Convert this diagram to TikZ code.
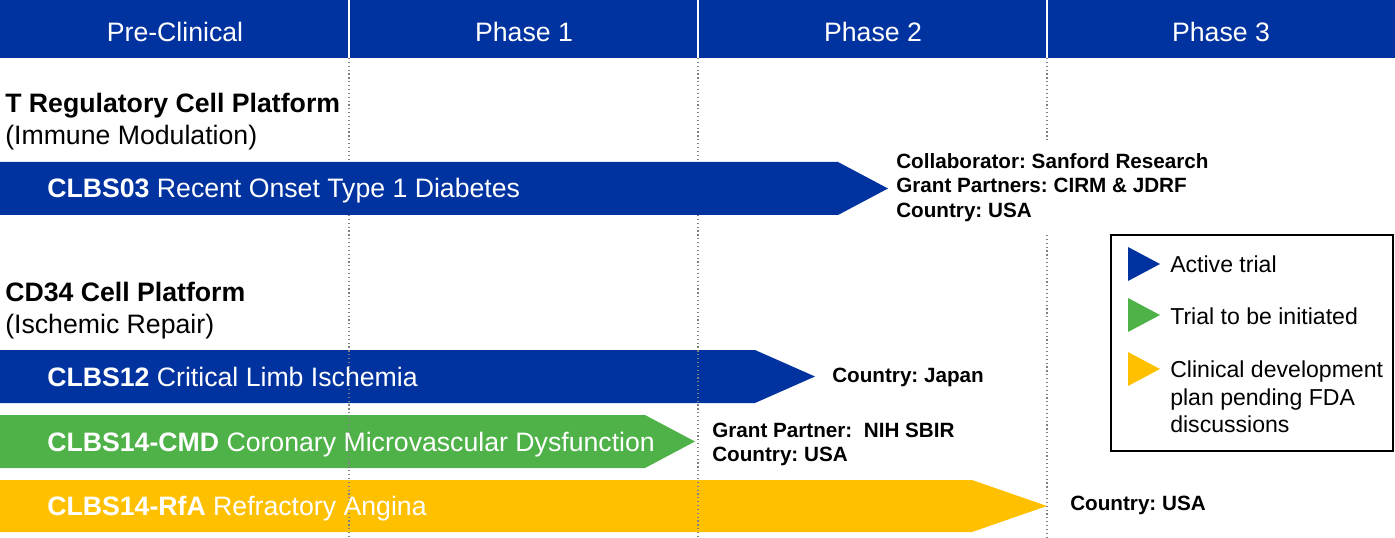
\documentclass[tikz,border=0pt]{standalone}
\usepackage{fontspec}
\setmainfont{Liberation Sans}
\frenchspacing

\definecolor{trialblue}{RGB}{0,51,160}
\definecolor{trialgreen}{RGB}{78,178,72}
\definecolor{trialyellow}{RGB}{255,192,0}

\tikzset{
  phasehead/.style={anchor=base, inner sep=0pt, text=white, font=\fontsize{20}{24}\selectfont},
  platform/.style={anchor=base west, inner sep=0pt, font=\fontsize{20}{24}\selectfont},
  triallabel/.style={anchor=base west, inner sep=0pt, text=white, font=\fontsize{20}{24}\selectfont},
  sitenote/.style={anchor=west, inner sep=0pt, align=left, font=\bfseries\fontsize{15.5}{18.4}\selectfont},
  legendtext/.style={anchor=west, inner sep=0pt, align=left, font=\fontsize{17.3}{20.6}\selectfont},
  phaseline/.style={gray, dotted, line width=0.9pt},
}

\begin{document}
\begin{tikzpicture}[x=0.75pt,y=0.75pt,yscale=-1,xscale=1]
\useasboundingbox (0,0) rectangle (1395,538);

%Header bar
\fill[trialblue] (0,0) rectangle (1395,58);
\draw[white, line width=1.5pt] (349,0) -- (349,58) (698,0) -- (698,58) (1047,0) -- (1047,58);

%Arrow: CLBS03
\fill[trialblue] (0,162) -- (838,162) -- (888,188.5) -- (838,215) -- (0,215) -- cycle;
%Arrow: CLBS12
\fill[trialblue] (0,350) -- (755,350) -- (815,376.5) -- (755,403) -- (0,403) -- cycle;
%Arrow: CLBS14-CMD
\fill[trialgreen] (0,415) -- (645,415) -- (695,441.5) -- (645,468) -- (0,468) -- cycle;
%Arrow: CLBS14-RfA
\fill[trialyellow] (0,480) -- (972,480) -- (1047,506) -- (972,532) -- (0,532) -- cycle;

%Phase separators
\draw[phaseline] (349,58) -- (349,162) (349,215) -- (349,538);
\draw[phaseline] (698,58) -- (698,162) (698,215) -- (698,538);
\draw[phaseline] (1047,58) -- (1047,140) (1047,235) -- (1047,538);

%Legend box
\draw[line width=1.5pt] (1111,235) rectangle (1393,451);
\fill[trialblue] (1128,247) -- (1160,264) -- (1128,281) -- cycle;
\fill[trialgreen] (1128,298) -- (1160,315) -- (1128,332) -- cycle;
\fill[trialyellow] (1128,352) -- (1160,369) -- (1128,386) -- cycle;

% Text Node
\node[phasehead] (preclin) at (175,42) {Pre-Clinical};
% Text Node
\node[phasehead] (phaseone) at (524,42) {Phase 1};
% Text Node
\node[phasehead] (phasetwo) at (873,42) {Phase 2};
% Text Node
\node[phasehead] (phasethree) at (1221,42) {Phase 3};
% Text Node
\node[platform] (treg) at (5,113) {\bfseries T Regulatory Cell Platform};
% Text Node
\node[platform] (tregsub) at (5,145) {(Immune Modulation)};
% Text Node
\node[platform] (cdplat) at (5,301) {\bfseries CD34 Cell Platform};
% Text Node
\node[platform] (cdsub) at (5,333) {(Ischemic Repair)};
% Text Node
\node[triallabel] (clbs03) at (47,197.5) {\bfseries CLBS03 \mdseries Recent Onset Type 1 Diabetes};
% Text Node
\node[triallabel] (clbs12) at (47,386) {\bfseries CLBS12 \mdseries Critical Limb Ischemia};
% Text Node
\node[triallabel] (clbscmd) at (47,451) {\bfseries CLBS14-CMD \mdseries Coronary Microvascular Dysfunction};
% Text Node
\node[triallabel] (clbsrfa) at (47,515.5) {\bfseries CLBS14-RfA \mdseries Refractory Angina};
% Text Node
\node[sitenote] (note03) at (896,187.5) {Collaborator: Sanford Research\\Grant Partners: CIRM \& JDRF\\Country: USA};
% Text Node
\node[sitenote] (note12) at (832,377) {Country: Japan};
% Text Node
\node[sitenote] (notecmd) at (712,444.5) {Grant Partner:\ \ NIH SBIR\\Country: USA};
% Text Node
\node[sitenote] (noterfa) at (1070,505) {Country: USA};
% Text Node
\node[legendtext] (legactive) at (1170,264) {Active trial};
% Text Node
\node[legendtext] (leginit) at (1170,316) {Trial to be initiated};
% Text Node
\node[legendtext] (legplan) at (1170,397) {Clinical development\\plan pending FDA\\discussions};

\end{tikzpicture}
\end{document}
